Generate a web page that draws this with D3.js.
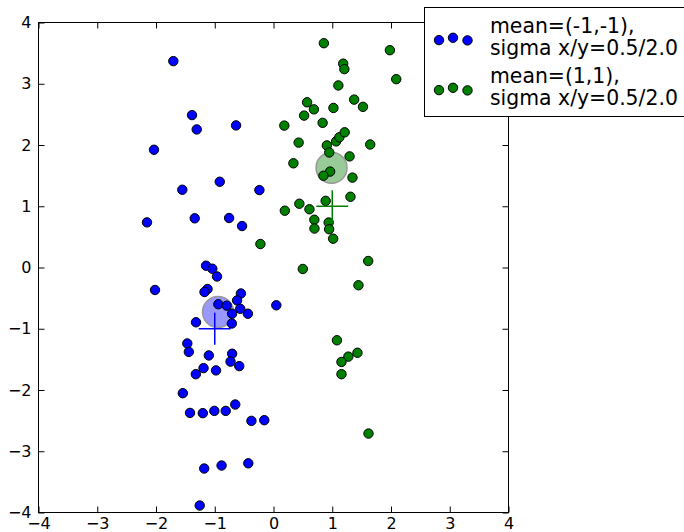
<!DOCTYPE html>
<html>
<head>
<meta charset="utf-8">
<script src="https://cdn.jsdelivr.net/npm/d3@7"></script>
<style>
  html, body { margin: 0; padding: 0; background: #fff; }
  svg { display: block; font-family: "DejaVu Sans", sans-serif; }
</style>
</head>
<body>
<svg id="chart" width="684" height="532"></svg>
<script>
// ---- data ----
const xTicks = [-4, -3, -2, -1, 0, 1, 2, 3, 4];
const yTicks = [-4, -3, -2, -1, 0, 1, 2, 3, 4];

const seriesNames = ["mean=(-1,-1),\nsigma x/y=0.5/2.0", "mean=(1,1),\nsigma x/y=0.5/2.0"];
const seriesColors = ["#0000ff", "#008000"];

const blueX = [-1.705, -1.387, -1.307, -2.034, -0.637, -0.915, -1.552, -2.153, -1.341, -0.756,
  -0.535, -0.240, -1.148, -1.041, -0.961, -2.017, -1.123, -1.174, -0.939, -0.796,
  -1.319, -0.709, -0.705, -0.555, -0.620, -0.566, -0.436, 0.048, -1.467, -1.441,
  -1.101, -0.704, -0.731, -0.583, -1.191, -0.978, -1.322, -1.543, -1.421, -1.203,
  -1.007, -0.813, -0.651, -0.376, -0.157, -1.179, -0.884, -0.429, -1.256];
const blueY = [3.369, 2.488, 2.254, 1.922, 2.320, 1.400, 1.269, 0.737, 0.803, 0.808,
  0.677, 1.264, 0.029, -0.020, -0.147, -0.367, -0.351, -0.400, -0.600, -0.623,
  -0.894, -0.914, -0.755, -0.424, -0.538, -0.674, -0.755, -0.617, -1.240, -1.378,
  -1.436, -1.408, -1.537, -1.610, -1.643, -1.680, -1.742, -2.052, -2.374, -2.378,
  -2.341, -2.341, -2.237, -2.504, -2.493, -3.282, -3.233, -3.197, -3.886];

const greenX = [0.857, 1.981, 1.186, 1.206, 2.089, 1.104, 0.572, 0.688, 0.521, 1.020,
  1.373, 1.523, 0.836, 0.184, 0.428, 0.908, 1.066, 1.121, 1.211, 1.646,
  0.949, 1.295, 0.339, 0.964, 0.850, 1.344, 1.310, 0.888, 0.440, 0.193,
  0.612, 0.695, 0.697, 0.939, 0.947, 1.015, -0.223, 1.612, 0.499, 1.446,
  1.080, 1.274, 1.429, 1.157, 1.157, 1.617];
const greenY = [3.662, 3.548, 3.328, 3.238, 3.075, 2.972, 2.697, 2.582, 2.480, 2.605,
  2.741, 2.623, 2.362, 2.317, 2.039, 1.993, 2.059, 2.126, 2.207, 2.008,
  1.878, 1.814, 1.701, 1.566, 1.498, 1.468, 1.155, 1.088, 1.041, 0.927,
  0.951, 0.780, 0.636, 0.734, 0.625, 0.470, 0.383, 0.106, -0.024, -0.290,
  -1.188, -1.455, -1.392, -1.542, -1.742, -2.711];

// true means (crosses) and sample means (translucent circles)
const trueMeansX = [-1, 1];
const trueMeansY = [-1, 1];
const sampleMeansX = [-0.944, 0.988];
const sampleMeansY = [-0.726, 1.628];

// ---- layout ----
const svg = d3.select("#chart");
const L = 38.5, R = 508.5, T = 22.5, B = 512.5;
const x = d3.scaleLinear().domain([-4, 4]).range([L, R]);
const y = d3.scaleLinear().domain([-4, 4]).range([B, T]);
const fmt = d3.format("d");

svg.append("rect").attr("x", L).attr("y", T).attr("width", R - L).attr("height", B - T)
  .attr("fill", "#fff");

function styleAxis(g) {
  g.select(".domain").remove();
  g.selectAll(".tick line").attr("stroke", "#000").attr("stroke-width", 1);
  g.selectAll(".tick text").attr("fill", "#000")
    .style("font-family", "'DejaVu Sans', sans-serif").style("font-size", "16px");
}
svg.append("g").attr("transform", `translate(0,${B})`)
  .call(d3.axisBottom(x).tickValues(xTicks).tickFormat(fmt).tickSizeInner(-6).tickSizeOuter(0).tickPadding(5))
  .call(styleAxis);
svg.append("g").attr("transform", `translate(0,${T})`)
  .call(d3.axisTop(x).tickValues(xTicks).tickFormat("").tickSizeInner(-6).tickSizeOuter(0))
  .call(styleAxis);
svg.append("g").attr("transform", `translate(${L},0)`)
  .call(d3.axisLeft(y).tickValues(yTicks).tickFormat(fmt).tickSizeInner(-6).tickSizeOuter(0).tickPadding(7))
  .call(styleAxis);
svg.append("g").attr("transform", `translate(${R},0)`)
  .call(d3.axisRight(y).tickValues(yTicks).tickFormat("").tickSizeInner(-6).tickSizeOuter(0))
  .call(styleAxis);

svg.append("rect").attr("x", L).attr("y", T).attr("width", R - L).attr("height", B - T)
  .attr("fill", "none").attr("stroke", "#000").attr("stroke-width", 1);

const plot = svg.append("g");

// sample-mean circles
plot.selectAll("circle.mean").data(d3.range(2)).join("circle")
  .attr("class", "mean")
  .attr("cx", i => x(sampleMeansX[i])).attr("cy", i => y(sampleMeansY[i]))
  .attr("r", 15.5)
  .attr("fill", i => seriesColors[i]).attr("stroke", "#000").attr("stroke-width", 1.5)
  .attr("opacity", 0.4);

// scatter points
const series = [
  blueX.map((v, i) => ({ x: v, y: blueY[i] })),
  greenX.map((v, i) => ({ x: v, y: greenY[i] }))
];
series.forEach((pts, s) => {
  plot.append("g").selectAll("circle").data(pts).join("circle")
    .attr("cx", d => x(d.x)).attr("cy", d => y(d.y)).attr("r", 4.7)
    .attr("fill", seriesColors[s]).attr("stroke", "#000").attr("stroke-width", 1);
});

// true-mean crosses
d3.range(2).forEach(i => {
  const cx = x(trueMeansX[i]), cy = y(trueMeansY[i]), h = 16;
  plot.append("line").attr("x1", cx - h).attr("x2", cx + h).attr("y1", cy).attr("y2", cy)
    .attr("stroke", seriesColors[i]).attr("stroke-width", 1.5);
  plot.append("line").attr("x1", cx).attr("x2", cx).attr("y1", cy - h).attr("y2", cy + h)
    .attr("stroke", seriesColors[i]).attr("stroke-width", 1.5);
});

// legend
const lg = svg.append("g");
lg.append("rect").attr("x", 424.5).attr("y", 7.5).attr("width", 280).attr("height", 109)
  .attr("fill", "#fff").attr("stroke", "#000").attr("stroke-width", 1);
const markerDX = [439, 453, 467.5];
const markerDY = [2.3, 0, 2.6];
const rowY = [37.8, 87.8];
seriesNames.forEach((name, i) => {
  markerDX.forEach((mx, k) => {
    lg.append("circle").attr("cx", mx).attr("cy", rowY[i] + markerDY[k]).attr("r", 4.7)
      .attr("fill", seriesColors[i]).attr("stroke", "#000").attr("stroke-width", 1);
  });
  const lines = name.split("\n");
  const t = lg.append("text").attr("x", 490).attr("y", rowY[i] - 5)
    .style("font-size", "20.4px").attr("fill", "#000");
  lines.forEach((ln, j) => {
    t.append("tspan").attr("x", 490).attr("dy", j === 0 ? 0 : 22).text(ln);
  });
});
</script>
</body>
</html>
